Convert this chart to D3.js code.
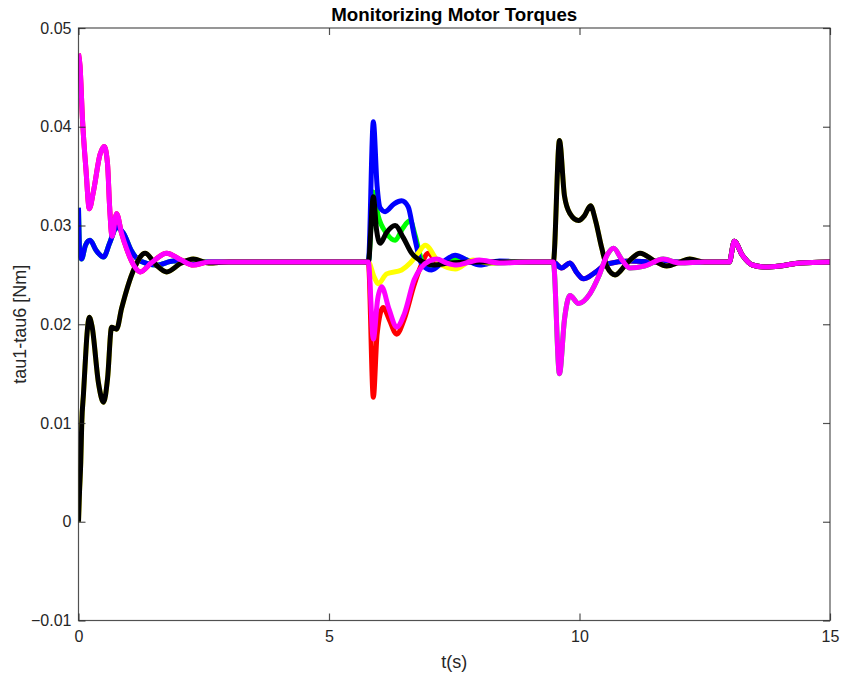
<!DOCTYPE html>
<html>
<head>
<meta charset="utf-8">
<script src="https://cdn.jsdelivr.net/npm/d3@7"></script>
<style>
  html, body { margin: 0; padding: 0; background: #fff; }
  svg { display: block; }
</style>
</head>
<body>
<svg id="chart" width="841" height="676"></svg>
<script>
// ---------------- DATA ----------------
const steady = 0.0263;
const xTicks = [0, 5, 10, 15];
const yTicks = [-0.01, 0, 0.01, 0.02, 0.03, 0.04, 0.05];
const seriesNames = ["tau1", "tau2", "tau3", "tau4", "tau5", "tau6"];
const seriesColors = ["#ff0000", "#00ff00", "#0000ff", "#ffff00", "#000000", "#ff00ff"];

// phase 1 (start-up)
const p1High = [[0,0.0474],[0.03,0.0462],[0.08,0.0407],[0.15,0.0356],[0.215,0.0317],[0.3,0.0335],[0.43,0.0372],[0.515,0.038],[0.58,0.0362],[0.62,0.032],[0.67,0.0289],[0.76,0.0312],[0.86,0.0292],[0.97,0.0275],[1.1,0.026],[1.23,0.0253],[1.45,0.0262],[1.76,0.0272],[2.05,0.0265],[2.29,0.026],[2.6,0.0263],[3.0,0.0263]];
const p1Mid  = [[0,0.0318],[0.025,0.0272],[0.06,0.0266],[0.14,0.028],[0.23,0.0285],[0.35,0.0275],[0.5,0.0268],[0.62,0.0282],[0.76,0.0298],[0.9,0.0292],[1.05,0.0275],[1.23,0.0264],[1.56,0.026],[1.9,0.0264],[2.4,0.0263],[3.0,0.0263]];
const p1Low  = [[0,0],[0.02,0.003],[0.045,0.006],[0.065,0.01],[0.1,0.013],[0.13,0.0157],[0.17,0.019],[0.215,0.0207],[0.27,0.0198],[0.4,0.014],[0.5,0.0121],[0.58,0.0145],[0.66,0.0197],[0.76,0.0195],[0.86,0.0216],[1.1,0.0255],[1.33,0.0272],[1.55,0.026],[1.76,0.0253],[2.05,0.0262],[2.29,0.0266],[2.6,0.0262],[3.0,0.0263]];

// phase 2 (disturbance near t = 5.9 s)
const p2Red     = [[5.785,0.0263],[5.885,0.0126],[5.96,0.019],[6.08,0.0217],[6.2,0.0205],[6.35,0.019],[6.5,0.0205],[6.7,0.024],[6.85,0.0261],[6.98,0.0272],[7.15,0.0263],[7.4,0.0259],[7.8,0.0264],[8.3,0.0263],[9.477,0.0263]];
const p2Green   = [[5.785,0.0263],[5.885,0.0334],[5.98,0.031],[6.15,0.0292],[6.32,0.0285],[6.47,0.0297],[6.62,0.0305],[6.72,0.029],[6.85,0.0265],[7.0,0.0257],[7.3,0.0262],[7.6,0.0267],[7.9,0.0263],[8.3,0.0262],[9.0,0.0263],[9.477,0.0263]];
const p2Blue    = [[5.785,0.0263],[5.885,0.0405],[5.96,0.034],[6.02,0.0318],[6.12,0.0314],[6.3,0.0322],[6.45,0.0325],[6.58,0.0319],[6.7,0.029],[6.85,0.0261],[7.05,0.0255],[7.25,0.0262],[7.52,0.027],[7.75,0.0265],[8.01,0.026],[8.4,0.0264],[9.0,0.0263],[9.477,0.0263]];
const p2Yellow  = [[5.785,0.0263],[5.9,0.0248],[5.98,0.0241],[6.15,0.0251],[6.45,0.0255],[6.62,0.0262],[6.78,0.0272],[6.92,0.028],[7.22,0.0261],[7.52,0.0256],[7.88,0.0265],[8.2,0.0262],[8.6,0.0263],[9.477,0.0263]];
const p2Black   = [[5.785,0.0263],[5.885,0.0329],[5.95,0.0295],[6.02,0.0282],[6.15,0.0293],[6.32,0.030],[6.48,0.0288],[6.65,0.0272],[6.88,0.0263],[7.1,0.026],[7.4,0.0262],[8.0,0.0263],[9.477,0.0263]];
const p2Magenta = [[5.785,0.0263],[5.885,0.0185],[5.97,0.0225],[6.05,0.0238],[6.2,0.0215],[6.35,0.0197],[6.5,0.021],[6.7,0.0245],[6.85,0.0258],[7.0,0.0264],[7.15,0.0266],[7.35,0.0262],[7.55,0.026],[7.8,0.0263],[8.0,0.0265],[8.4,0.0262],[9.0,0.0263],[9.477,0.0263]];

// phase 3 (disturbance near t = 9.6 s)
const p3Up   = [[9.6,0.0386],[9.7,0.033],[9.81,0.0312],[9.98,0.0305],[10.1,0.031],[10.22,0.032],[10.32,0.0305],[10.44,0.0278],[10.55,0.0258],[10.71,0.025],[10.95,0.0262],[11.21,0.0272],[11.5,0.0264],[11.74,0.0259],[12.0,0.0263],[12.2,0.0266],[12.5,0.0263],[12.99,0.0263]];
const p3Flat = [[9.64,0.0257],[9.81,0.0262],[9.95,0.0252],[10.08,0.0246],[10.3,0.0252],[10.55,0.0261],[11.0,0.0264],[11.5,0.0263],[12.99,0.0263]];
const p3Down = [[9.6,0.015],[9.7,0.0205],[9.81,0.0229],[9.98,0.0221],[10.21,0.0231],[10.38,0.0248],[10.55,0.027],[10.68,0.0277],[10.85,0.0265],[11.01,0.0257],[11.3,0.0259],[11.67,0.0266],[12.0,0.0262],[12.5,0.0263],[12.99,0.0263]];

// phase 4 (small bump near t = 13.1 s)
const p4All = [[13.09,0.0284],[13.25,0.027],[13.45,0.026],[13.7,0.0258],[14.0,0.0259],[14.4,0.0262],[15,0.0263]];

const tau1 = [...p1High, ...p2Red,     ...p3Flat, ...p4All];
const tau2 = [...p1Mid,  ...p2Green,   ...p3Down, ...p4All];
const tau3 = [...p1Mid,  ...p2Blue,    ...p3Flat, ...p4All];
const tau4 = [...p1Low,  ...p2Yellow,  ...p3Up,   ...p4All];
const tau5 = [...p1Low,  ...p2Black,   ...p3Up,   ...p4All];
const tau6 = [...p1High, ...p2Magenta, ...p3Down, ...p4All];
const allSeries = [tau1, tau2, tau3, tau4, tau5, tau6];

// ---------------- CHART ----------------
const svg = d3.select("#chart");
const L = 78.5, R = 830, T = 28, B = 620.5;
const x = d3.scaleLinear().domain([0, 15]).range([L, R]);
const y = d3.scaleLinear().domain([-0.01, 0.05]).range([B, T]);
const axisColor = "#262626";
const font = "'Liberation Sans', Arial, Helvetica, sans-serif";

svg.append("defs").append("clipPath").attr("id", "plotclip")
  .append("rect").attr("x", L).attr("y", T - 3).attr("width", R - L + 3).attr("height", B - T + 6);

const line = d3.line().x(d => x(d[0])).y(d => y(d[1])).curve(d3.curveMonotoneX);
const gLines = svg.append("g").attr("clip-path", "url(#plotclip)");
allSeries.forEach((s, i) => {
  gLines.append("path")
    .datum(s)
    .attr("d", line)
    .attr("fill", "none")
    .attr("stroke", seriesColors[i])
    .attr("stroke-width", 5)
    .attr("stroke-linejoin", "round")
    .attr("stroke-linecap", "butt")
    .attr("data-name", seriesNames[i]);
});

// axes (box with inward ticks on all sides)
const tickLen = 7;
const gAx = svg.append("g");
gAx.append("rect").attr("x", L).attr("y", T).attr("width", R - L).attr("height", B - T)
  .attr("fill", "none").attr("stroke", axisColor).attr("stroke-width", 1.2).attr("opacity", 0.8);

const axB = d3.axisBottom(x).tickValues(xTicks).tickSize(-tickLen).tickPadding(10).tickFormat(d3.format("d"));
const axL = d3.axisLeft(y).tickValues(yTicks).tickSize(-tickLen).tickPadding(7).tickFormat(d => d === 0 ? "0" : d3.format(".2f")(d));
const axT = d3.axisTop(x).tickValues(xTicks).tickSize(-tickLen).tickFormat("");
const axR = d3.axisRight(y).tickValues(yTicks).tickSize(-tickLen).tickFormat("");

function style(g) {
  g.select(".domain").remove();
  g.selectAll(".tick line").attr("stroke", axisColor).attr("stroke-width", 1.2).attr("opacity", 0.8);
  g.selectAll(".tick text").attr("fill", axisColor).attr("font-family", font).attr("font-size", 16);
}
gAx.append("g").attr("transform", `translate(0,${B})`).call(axB).call(style);
gAx.append("g").attr("transform", `translate(${L},0)`).call(axL).call(style);
gAx.append("g").attr("transform", `translate(0,${T})`).call(axT).call(style);
gAx.append("g").attr("transform", `translate(${R},0)`).call(axR).call(style);

// titles
svg.append("text").attr("x", (L + R) / 2).attr("y", 21).attr("text-anchor", "middle")
  .attr("font-family", font).attr("font-weight", "bold").attr("font-size", 18).attr("fill", "#000")
  .attr("textLength", 246).attr("lengthAdjust", "spacingAndGlyphs")
  .text("Monitorizing Motor Torques");
svg.append("text").attr("x", (L + R) / 2).attr("y", 668).attr("text-anchor", "middle")
  .attr("font-family", font).attr("font-size", 18).attr("fill", axisColor)
  .text("t(s)");
svg.append("text").attr("transform", `translate(26,${(T + B) / 2}) rotate(-90)`).attr("text-anchor", "middle")
  .attr("font-family", font).attr("font-size", 18).attr("fill", axisColor)
  .text("tau1-tau6 [Nm]");
</script>
</body>
</html>
